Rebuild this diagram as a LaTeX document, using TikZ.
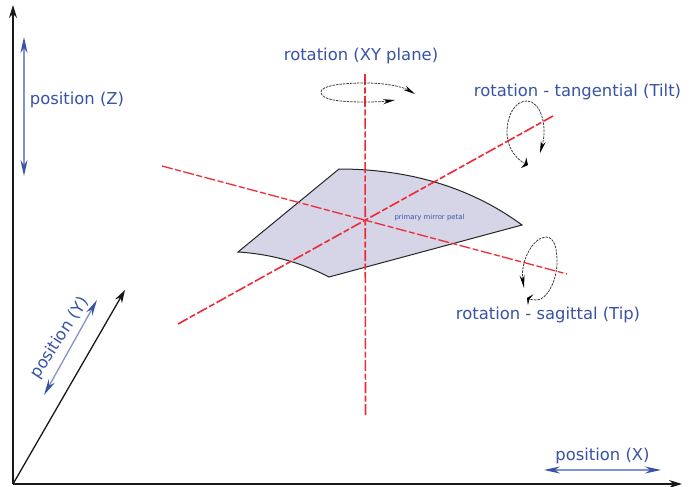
\documentclass[tikz,border=0pt]{standalone}
\usepackage{fontspec}
\setmainfont{DejaVu Sans}
\usetikzlibrary{arrows.meta}
\definecolor{lblue}{HTML}{3953A4}
\definecolor{lline}{HTML}{8093CC}
\definecolor{petal}{HTML}{D5D5E7}
\definecolor{axred}{HTML}{ED2A35}
\tikzset{
  lbl/.style={text=lblue,font=\fontsize{16.4}{20}\selectfont,inner sep=0pt},
  axisline/.style={draw=black!90,line width=1.3pt,-{Stealth[length=13pt,width=8pt]}},
  redaxis/.style={draw=axred,line width=1.6pt,dash pattern=on 11pt off 2.5pt on 6pt off 2.5pt},
  redthin/.style={draw=axred,line width=1.3pt,dash pattern=on 11pt off 2.5pt on 6pt off 2.5pt},
  posarrow/.style={draw=lline,line width=1.3pt,{Stealth[length=16pt,width=7pt,color=lblue]}-{Stealth[length=16pt,width=7pt,color=lblue]}},
  rotline/.style={draw=black!75,line width=.8pt,dash pattern=on 2.5pt off 1pt},
}
\begin{document}
\begin{tikzpicture}[x=1pt,y=-1pt]
\useasboundingbox (0,0) rectangle (697,487);
\coordinate (O) at (13,484);
\coordinate (ZE) at (13,5);
\coordinate (XE) at (682,484);
\coordinate (YE) at (125,290);
\coordinate (PA) at (339,169);
\coordinate (PB) at (522,225);
\coordinate (PC) at (329,277);
\coordinate (PD) at (238,252);
\draw[draw=black!85,line width=1pt,fill=petal] (PA) .. controls (400,169) and (465,183) .. (PB) -- (PC) .. controls (300,262) and (270,254) .. (PD) -- cycle;
\coordinate (VT) at (365,74);
\coordinate (VB) at (365.5,415);
\coordinate (TA) at (178,324);
\coordinate (TB) at (553,116);
\coordinate (SA) at (162,166);
\coordinate (SB) at (567,274);
\draw[redaxis] (TA) -- (TB);
\draw[redthin] (SA) -- (SB);
\draw[redaxis] (VT) -- (VB);
\draw[axisline] (O) -- (ZE);
\draw[axisline] (O) -- (XE);
\draw[axisline] (O) -- (YE);
\coordinate (ZA) at (24,37);
\coordinate (ZB) at (24,176);
\coordinate (YA) at (44,395);
\coordinate (YB) at (97,300);
\coordinate (XA) at (544,470);
\coordinate (XB) at (661,470);
\draw[posarrow] (ZA) -- (ZB);
\draw[posarrow] (YA) -- (YB);
\draw[posarrow] (XA) -- (XB);
% rotation XY
\coordinate (R1a) at (415,94);
\coordinate (R1b) at (395,100);
\draw[rotline,{Stealth[length=12pt,width=5pt,color=black]}-{Stealth[length=12pt,width=5pt,color=black]}] (R1b) .. controls (385,101.5) and (375,102) .. (365,102) .. controls (340,102) and (321,100) .. (321,92) .. controls (321,86) and (340,83) .. (365,83) .. controls (390,83) and (405,88) .. (R1a);
% rotation tilt
\coordinate (R2a) at (540,153);
\coordinate (R2b) at (528,165);
\draw[rotline,{Stealth[length=12pt,width=5pt,color=black]}-{Stealth[length=5pt,width=12pt,color=black]}] (R2a) .. controls (548,125) and (540,101) .. (527,101) .. controls (515,101) and (507,115) .. (507,132) .. controls (507,148) and (516,159) .. (R2b);
% rotation tip
\coordinate (R3a) at (524,288);
\coordinate (R3b) at (527,298);
\draw[rotline,{Stealth[length=13pt,width=5pt,color=black]}-{Stealth[length=4pt,width=12pt,color=black]}] (R3a) .. controls (520,262) and (533,237) .. (546,237) .. controls (555,237) and (557,250) .. (557,262) .. controls (557,282) and (546,300) .. (537,300) .. controls (534,300) and (530,299.5) .. (R3b);
\node[lbl] (lxy) at (361,56) {rotation (XY plane)};
\node[lbl] (ltilt) at (577.5,92) {rotation - tangential (Tilt)};
\node[lbl] (ltip) at (548,315) {rotation - sagittal (Tip)};
\node[lbl] (lz) at (77,100) {position (Z)};
\node[lbl] (lx) at (602.5,456) {position (X)};
\node[lbl,rotate=57] (ly) at (60,338) {position (Y)};
\node[text=lblue,font=\fontsize{6.9}{8}\selectfont,inner sep=0pt] (lp) at (429.5,218) {primary mirror petal};
\end{tikzpicture}
\end{document}
